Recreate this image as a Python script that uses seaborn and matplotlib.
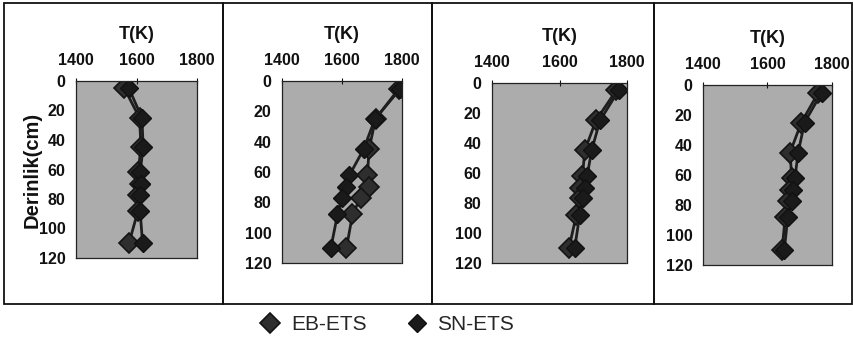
import matplotlib
matplotlib.use("Agg")
import matplotlib.pyplot as plt
from matplotlib.lines import Line2D
from matplotlib.patches import Rectangle
import seaborn as sns
import pandas as pd

sns.set_theme(style="white")
plt.rcParams["font.family"] = ["Liberation Sans", "DejaVu Sans"]

# Sampling depths (cm) and temperature profiles (K) for each of the four runs
depth = [5, 25, 45, 62, 70, 77, 88, 110]

eb_ets = [
    [1560, 1610, 1615, 1605, 1610, 1605, 1605, 1575],
    [1790, 1712, 1690, 1685, 1690, 1662, 1635, 1615],
    [1768, 1708, 1675, 1668, 1662, 1660, 1650, 1628],
    [1758, 1705, 1670, 1675, 1670, 1665, 1655, 1645],
]
sn_ets = [
    [1575, 1618, 1622, 1612, 1615, 1612, 1612, 1620],
    [1795, 1710, 1672, 1625, 1612, 1600, 1585, 1563],
    [1775, 1720, 1695, 1682, 1675, 1670, 1660, 1645],
    [1768, 1715, 1695, 1685, 1680, 1675, 1663, 1652],
]
series_names = ["EB-ETS", "SN-ETS"]
x_ticks = [1400, 1600, 1800]
y_ticks = [0, 20, 40, 60, 80, 100, 120]

W, H = 854, 339
fig = plt.figure(figsize=(W / 100, H / 100), dpi=100)

# axes boxes in pixels: left, top, right, bottom
boxes = [
    (76, 81, 197, 258),
    (282, 81, 402, 263),
    (492, 83, 627, 263),
    (703, 85, 832, 265),
]
# outer panel frames in pixels
frames = [(4, 3, 223, 304), (223, 3, 432, 304), (432, 3, 654, 304), (654, 3, 852, 304)]

for (l, t, r, b) in frames:
    fig.add_artist(Rectangle((l / W, 1 - b / H), (r - l) / W, (b - t) / H,
                             transform=fig.transFigure, fill=False,
                             edgecolor="#111111", linewidth=1.3))

line_col = "#1e1e1e"
styles = {
    "EB-ETS": dict(marker="D", markersize=10, markerfacecolor="#2e2e2e",
                   markeredgecolor="#141414", markeredgewidth=1.2),
    "SN-ETS": dict(marker="D", markersize=9, markerfacecolor="#1a1a1a",
                   markeredgecolor="#111111", markeredgewidth=1.0),
}

for i, (l, t, r, b) in enumerate(boxes):
    ax = fig.add_axes([l / W, 1 - b / H, (r - l) / W, (b - t) / H])
    ax.set_facecolor("#acacac")
    for name, vals in zip(series_names, [eb_ets[i], sn_ets[i]]):
        df = pd.DataFrame({"T": vals, "depth": depth})
        sns.lineplot(data=df, x="T", y="depth", sort=False, estimator=None,
                     color=line_col, linewidth=2.0, ax=ax, **styles[name])
    ax.set_xlim(1400, 1800)
    ax.set_ylim(120, 0)
    ax.set_xticks(x_ticks)
    ax.set_yticks(y_ticks)
    ax.xaxis.tick_top()
    ax.xaxis.set_label_position("top")
    ax.tick_params(axis="both", direction="inout", length=5, width=0.8,
                   color="#111111", labelsize=11.5, labelcolor="#111111")
    ax.tick_params(axis="x", pad=7)
    ax.tick_params(axis="y", pad=5)
    for lab in ax.get_xticklabels() + ax.get_yticklabels():
        lab.set_fontweight("bold")
    ax.set_xlabel("T(K)", fontsize=13, fontweight="bold", color="#111111", labelpad=10)
    if i == 0:
        ax.set_ylabel("Derinlik(cm)", fontsize=14.5, fontweight="bold", color="#111111")
        ax.yaxis.set_label_coords(-0.28, 0.5)
    else:
        ax.set_ylabel("")
    for sp in ax.spines.values():
        sp.set_visible(True)
        sp.set_color("#222222")
        sp.set_linewidth(0.9)
        sp.set_linestyle((0, (2, 1)))

handles = [Line2D([], [], linestyle="none", **styles[n]) for n in series_names]
fig.legend(handles, series_names, loc="center", bbox_to_anchor=(386 / W, 1 - 325 / H),
           ncol=2, frameon=False, fontsize=15, handletextpad=0.4, columnspacing=1.8,
           handlelength=1.2)

fig.savefig("out.png", dpi=100)
